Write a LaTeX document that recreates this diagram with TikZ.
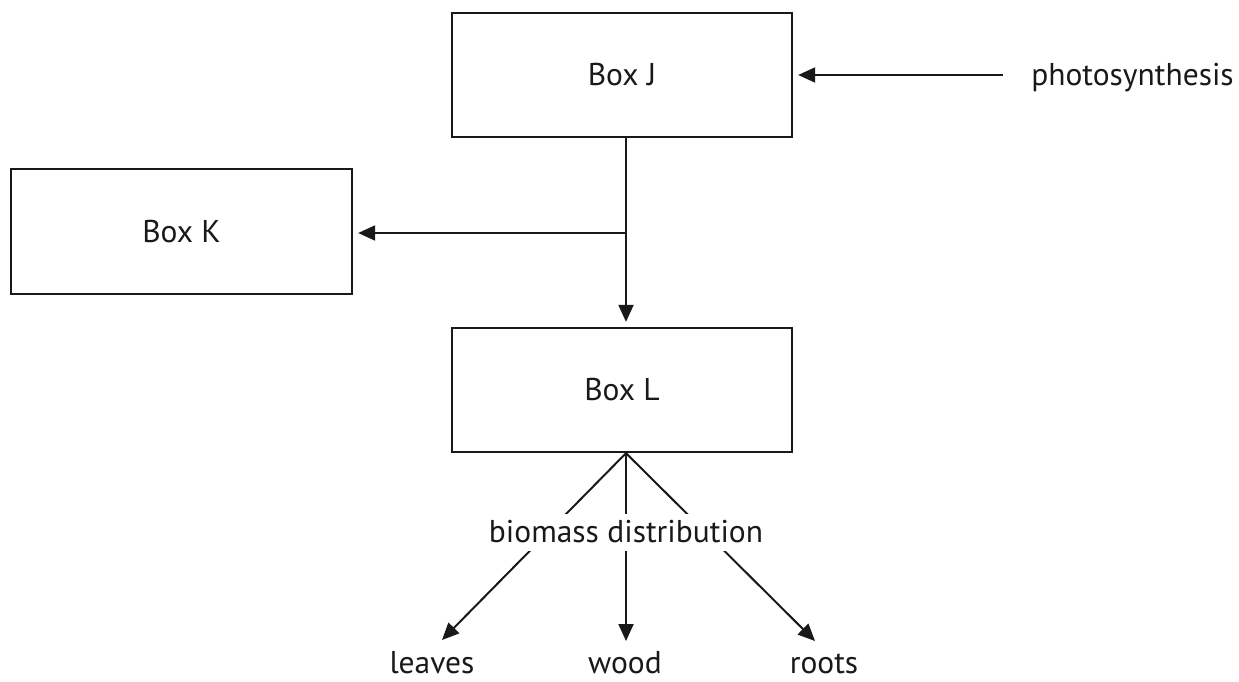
\documentclass[tikz,border=0pt]{standalone}
\usepackage{fontspec}
\setmainfont{PT Sans}
\usetikzlibrary{arrows.meta,calc}
\begin{document}
\begin{tikzpicture}[x=1pt,y=-1pt,
  every node/.style={font=\fontsize{31.5}{37}\selectfont, text=black!90},
  boxnode/.style={draw=black!90, line width=2.3pt, minimum width=340pt, minimum height=124pt, inner sep=0pt},
  conn/.style={draw=black!90, line width=2pt},
  arr/.style={conn, -{Triangle[length=17pt,width=15pt]}},
  lbl/.style={anchor=base, inner sep=0pt}]
\useasboundingbox (0,0) rectangle (1239,682);
\node[boxnode] (J) at (622,75) {Box J};
\node[boxnode, minimum width=341pt, minimum height=125pt] (K) at (181.5,231.5) {Box K};
\node[boxnode] (L) at (622,390) {Box L};
\node[lbl] (photo) at (1132.5,86) {photosynthesis};
\coordinate (ps) at (1003,75);
\coordinate (br) at (626,233);
\coordinate (bt) at (626,452);
\coordinate (lt) at (442,640);
\coordinate (wt) at (626,641);
\coordinate (rt) at (815,641);
\node[lbl] (leaves) at (432,673) {leaves};
\node[lbl] (wood) at (625,673) {wood};
\node[lbl] (roots) at (824,673) {roots};
\draw[arr, shorten >=5pt] (ps) -- (J.east);
\draw[conn] (J.south -| br) -- (br);
\draw[arr, shorten >=5pt] (br) -- (L.north -| br);
\draw[arr, shorten >=5pt] (br) -- (K.east |- br);
\draw[arr] (L.south -| bt) -- (lt);
\draw[arr] (L.south -| bt) -- (wt);
\draw[arr] (L.south -| bt) -- (rt);
\node[anchor=base, fill=white, inner xsep=3pt, inner ysep=4pt, text height=24pt, text depth=5pt] (bd) at (626,542) {biomass distribution};
\end{tikzpicture}
\end{document}
